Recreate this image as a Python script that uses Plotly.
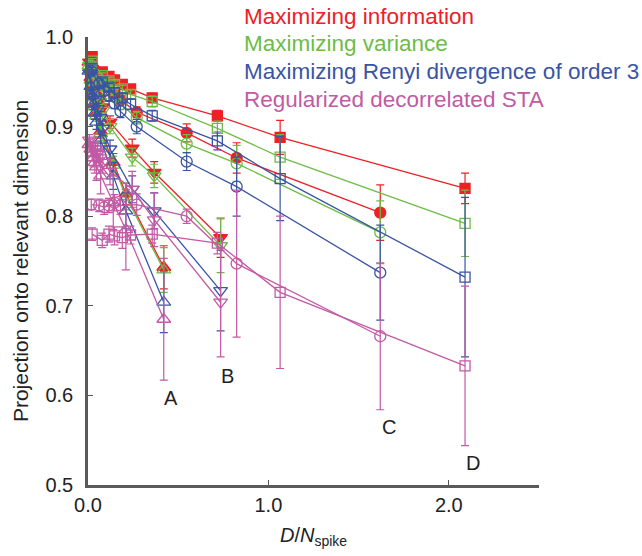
import plotly.graph_objects as go

# x positions (D/N_spike) of each dataset
A_x = [0.42, 0.21, 0.14, 0.07, 0.047, 0.038, 0.030, 0.023, 0.016, 0.005]
B_x = [0.735, 0.367, 0.245, 0.122, 0.082, 0.067, 0.052, 0.041, 0.028, 0.008]
C_x = [1.62, 0.824, 0.547, 0.27, 0.18, 0.147, 0.116, 0.09, 0.062, 0.018]
D_x = [2.09, 1.065, 0.717, 0.356, 0.236, 0.19, 0.147, 0.116, 0.079, 0.023]

# Maximizing information (red)
info_A = [0.743, 0.825, 0.86, 0.895, 0.915, 0.925, 0.935, 0.945, 0.955, 0.972]
info_A_err = [0.024, 0.012, 0.01, 0.008, 0.006, 0.005, 0.005, 0.004, 0.004, 0.003]
info_B = [0.776, 0.849, 0.876, 0.905, 0.922, 0.932, 0.94, 0.948, 0.956, 0.972]
info_B_err = [0.022, 0.012, 0.01, 0.007, 0.006, 0.005, 0.005, 0.004, 0.004, 0.003]
info_C = [0.804, 0.865, 0.893, 0.916, 0.93, 0.938, 0.944, 0.95, 0.957, 0.972]
info_C_err = [0.031, 0.017, 0.01, 0.006, 0.005, 0.005, 0.004, 0.004, 0.004, 0.003]
info_D = [0.831, 0.888, 0.912, 0.932, 0.942, 0.947, 0.952, 0.956, 0.961, 0.978]
info_D_err = [0.017, 0.019, 0.006, 0.005, 0.004, 0.004, 0.004, 0.003, 0.003, 0.003]

# Maximizing variance (green)
var_A = [0.740, 0.822, 0.857, 0.892, 0.912, 0.922, 0.932, 0.942, 0.952, 0.968]
var_A_err = [0.025, 0.015, 0.01, 0.008, 0.006, 0.005, 0.005, 0.004, 0.004, 0.003]
var_B = [0.767, 0.845, 0.866, 0.9, 0.918, 0.928, 0.936, 0.944, 0.952, 0.968]
var_B_err = [0.03, 0.013, 0.01, 0.008, 0.006, 0.005, 0.005, 0.004, 0.004, 0.003]
var_C = [0.782, 0.859, 0.881, 0.91, 0.925, 0.933, 0.94, 0.946, 0.953, 0.968]
var_C_err = [0.035, 0.02, 0.01, 0.007, 0.006, 0.005, 0.005, 0.004, 0.004, 0.003]
var_D = [0.792, 0.866, 0.898, 0.928, 0.936, 0.942, 0.947, 0.951, 0.957, 0.973]
var_D_err = [0.037, 0.025, 0.008, 0.006, 0.005, 0.004, 0.004, 0.004, 0.003, 0.003]

# Maximizing Renyi divergence of order 3 (blue)
renyi_A = [0.704, 0.806, 0.845, 0.885, 0.905, 0.915, 0.925, 0.935, 0.945, 0.962]
renyi_A_err = [0.034, 0.02, 0.015, 0.01, 0.008, 0.007, 0.006, 0.005, 0.004, 0.004]
renyi_B = [0.717, 0.806, 0.83, 0.875, 0.898, 0.91, 0.92, 0.93, 0.94, 0.96]
renyi_B_err = [0.045, 0.02, 0.015, 0.01, 0.008, 0.007, 0.006, 0.005, 0.004, 0.004]
renyi_C = [0.737, 0.833, 0.861, 0.9, 0.917, 0.926, 0.934, 0.94, 0.948, 0.962]
renyi_C_err = [0.053, 0.033, 0.01, 0.008, 0.007, 0.006, 0.005, 0.005, 0.004, 0.004]
renyi_D = [0.732, 0.842, 0.884, 0.912, 0.925, 0.932, 0.938, 0.944, 0.95, 0.965]
renyi_D_err = [0.089, 0.047, 0.01, 0.006, 0.006, 0.005, 0.005, 0.004, 0.004, 0.004]

# Regularized decorrelated STA (magenta)
sta_A = [0.685, 0.785, 0.815, 0.845, 0.855, 0.86, 0.865, 0.87, 0.875, 0.88]
sta_A_err = [0.068, 0.045, 0.03, 0.02, 0.015, 0.012, 0.01, 0.008, 0.007, 0.006]
sta_B = [0.704, 0.796, 0.83, 0.85, 0.86, 0.865, 0.87, 0.875, 0.88, 0.885]
sta_B_err = [0.061, 0.03, 0.02, 0.015, 0.012, 0.01, 0.009, 0.008, 0.007, 0.006]
sta_C = [0.666, 0.747, 0.80, 0.813, 0.812, 0.815, 0.812, 0.81, 0.812, 0.813]
sta_C_err = [0.082, 0.082, 0.008, 0.012, 0.01, 0.009, 0.008, 0.008, 0.007, 0.006]
sta_D = [0.633, 0.715, 0.770, 0.780, 0.779, 0.776, 0.778, 0.780, 0.773, 0.780]
sta_D_err = [0.089, 0.085, 0.012, 0.01, 0.01, 0.012, 0.01, 0.009, 0.008, 0.007]

method_names = ["Maximizing information", "Maximizing variance",
                "Maximizing Renyi divergence of order 3", "Regularized decorrelated STA"]
method_colors = ["#ee2026", "#6bbd45", "#3a54a4", "#c25aa5"]
dataset_labels = ["A", "B", "C", "D"]
label_pos_x = [0.46, 0.775, 1.67, 2.135]
label_pos_y = [0.597, 0.622, 0.565, 0.525]

xs = [A_x, B_x, C_x, D_x]
ys = [[info_A, info_B, info_C, info_D],
      [var_A, var_B, var_C, var_D],
      [renyi_A, renyi_B, renyi_C, renyi_D],
      [sta_A, sta_B, sta_C, sta_D]]
errs = [[info_A_err, info_B_err, info_C_err, info_D_err],
        [var_A_err, var_B_err, var_C_err, var_D_err],
        [renyi_A_err, renyi_B_err, renyi_C_err, renyi_D_err],
        [sta_A_err, sta_B_err, sta_C_err, sta_D_err]]
symbols = ["triangle-up", "triangle-down", "circle", "square"]
sizes = [12, 12, 11, 10]

fig = go.Figure()
for m in range(4):
    col = method_colors[m]
    for d in range(4):
        sym = symbols[d] if m == 0 else symbols[d] + "-open"
        fig.add_trace(go.Scatter(
            x=xs[d], y=ys[m][d],
            mode="lines+markers",
            line=dict(color=col, width=1.3),
            marker=dict(symbol=sym, size=sizes[d], color=col,
                        line=dict(color=col, width=1.3)),
            error_y=dict(type="data", array=errs[m][d], visible=True,
                         color=col, thickness=1.2, width=4),
            cliponaxis=False,
            showlegend=False,
            name=method_names[m] + " " + dataset_labels[d],
        ))

font = "Liberation Sans, Arial, Helvetica, sans-serif"
annotations = []
for i, (nm, col) in enumerate(zip(method_names, method_colors)):
    annotations.append(dict(
        text=nm, xref="paper", yref="paper",
        x=(242 - 88) / 450.6, y=(487 - (16 + 28 * i)) / 450,
        xanchor="left", yanchor="middle", showarrow=False,
        font=dict(family=font, size=22.5, color=col)))
for lab, lx, ly in zip(dataset_labels, label_pos_x, label_pos_y):
    annotations.append(dict(
        text=lab, x=lx, y=ly, xref="x", yref="y", showarrow=False,
        xanchor="center", yanchor="middle",
        font=dict(family=font, size=20, color="#222222")))

fig.update_layout(
    width=642, height=556,
    margin=dict(l=88, r=103, t=37, b=69),
    plot_bgcolor="white", paper_bgcolor="white",
    font=dict(family=font, size=20, color="#222222"),
    annotations=annotations,
    showlegend=False,
)
fig.update_xaxes(
    range=[0, 2.5], tickvals=[0, 1, 2], ticktext=["0.0", "1.0", "2.0"],
    ticks="inside", ticklen=5, tickcolor="#555555", tickwidth=1.2,
    showline=True, linecolor="#5a5a5a", linewidth=2.5,
    showgrid=False, zeroline=False,
    title=dict(text="<i>D</i>/<i>N</i><sub>spike</sub>", standoff=14,
               font=dict(size=20)),
    tickfont=dict(size=20),
)
fig.update_yaxes(
    range=[0.5, 1.0], tickvals=[0.5, 0.6, 0.7, 0.8, 0.9, 1.0],
    ticktext=["0.5", "0.6", "0.7", "0.8", "0.9", "1.0"],
    ticks="inside", ticklen=5, tickcolor="#555555", tickwidth=1.2,
    showline=True, linecolor="#5a5a5a", linewidth=2.5,
    showgrid=False, zeroline=False, ticklabelstandoff=8,
    title=dict(text="Projection onto relevant dimension", standoff=12,
               font=dict(size=21)),
    tickfont=dict(size=20),
)

fig.write_html("out.html")
